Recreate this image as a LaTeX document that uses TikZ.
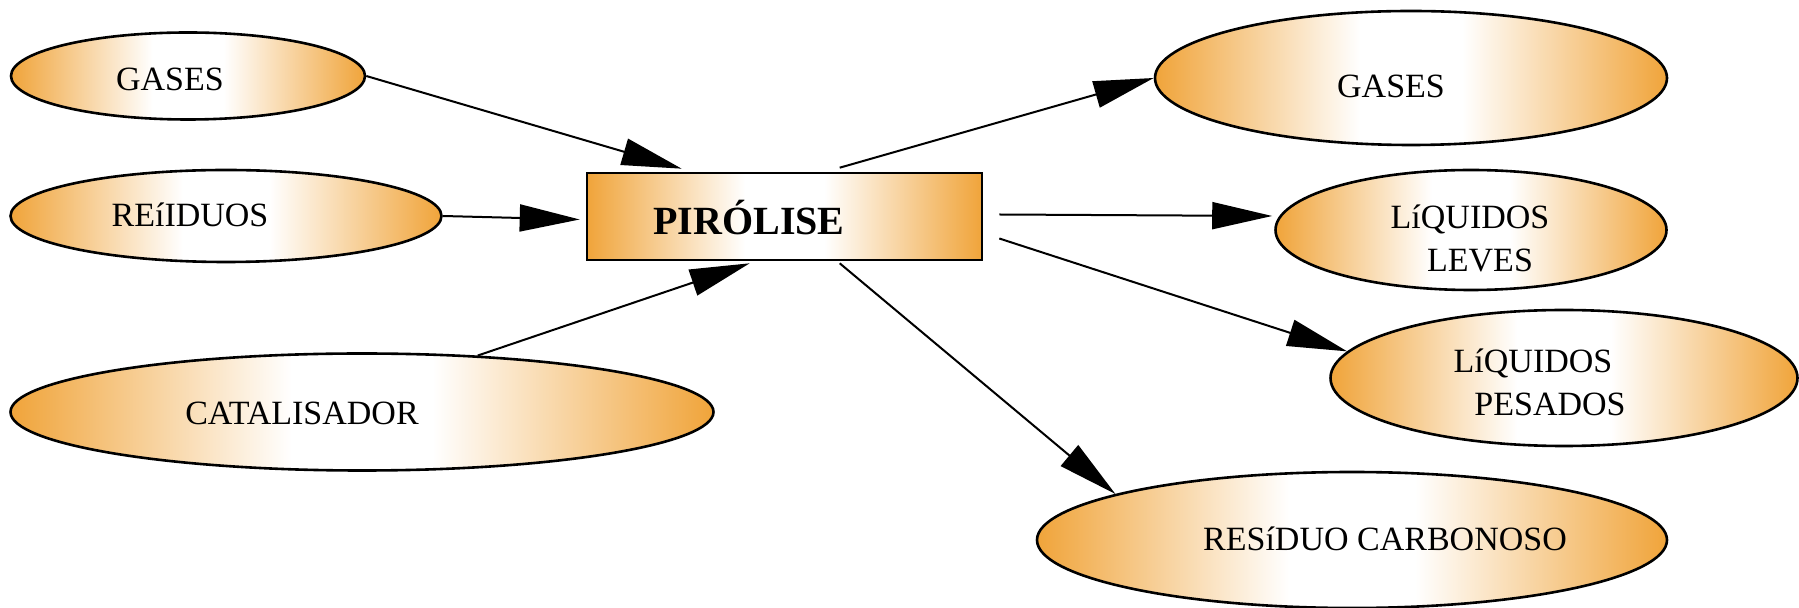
\documentclass[tikz,border=0pt]{standalone}
\usepackage{fontspec}
\setmainfont{Liberation Serif}
\usetikzlibrary{calc,arrows.meta,shapes.geometric}
\definecolor{pyorange}{RGB}{240,164,58}
\pgfdeclarehorizontalshading{orangefade}{100bp}{color(0bp)=(pyorange); color(25bp)=(pyorange); color(45bp)=(white); color(55bp)=(white); color(75bp)=(pyorange); color(100bp)=(pyorange)}
\tikzset{
	fade/.style={shading=orangefade},
	blob/.style={ellipse, draw, line width=1.3pt, inner sep=0pt, fade},
	lbl/.style={font=\fontsize{17}{21.5}\selectfont, inner sep=0pt, align=center},
	arr/.style={line width=1pt, -{Triangle[length=30pt,width=13.5pt]}}
}

\begin{document}
\begin{tikzpicture}[x=0.5pt,y=-0.5pt]
		%%%%% START %%%%%
		\useasboundingbox (0,0) rectangle (1799,608);
		
		% inputs
		\node[blob, minimum width=177pt, minimum height=43.5pt] (gin) at (188,76) {};
		\node[blob, minimum width=215.5pt, minimum height=46pt] (res) at (226,216) {};
		\node[blob, minimum width=351.5pt, minimum height=58.5pt] (cat) at (362,412) {};
		\node[lbl, anchor=base] (gintxt) at ($(gin)+(-18,15)$) {GASES};
		\node[lbl, anchor=base] (restxt) at ($(res)+(-36,11)$) {REíIDUOS};
		\node[lbl, anchor=base] (cattxt) at ($(cat)+(-60,13)$) {CATALISADOR};
		
		% reactor
		\node[draw, line width=1.3pt, inner sep=0pt, fade, minimum width=197.5pt, minimum height=43.5pt] (pyro) at (784.5,216.5) {};
		\node[lbl, anchor=base, font=\fontsize{20}{24}\selectfont\bfseries] (pyrotxt) at ($(pyro)+(-35.5,18.5)$) {PIRÓLISE};
		
		% products
		\node[blob, minimum width=256pt, minimum height=67pt] (gout) at (1411,78) {};
		\node[blob, minimum width=195.5pt, minimum height=60pt] (ll) at (1471,230) {};
		\node[blob, minimum width=233.5pt, minimum height=68pt] (lp) at (1564,378) {};
		\node[blob, minimum width=315pt, minimum height=68pt] (rc) at (1352,540) {};
		\node[lbl, anchor=base] (gouttxt) at ($(gout)+(-20,20)$) {GASES};
		\node[lbl] (lltxt) at ($(ll)+(-1,8)$) {LíQUIDOS\\\hspace*{10pt}LEVES};
		\node[lbl] (lptxt) at ($(lp)+(-31,4)$) {LíQUIDOS\\\hspace*{17pt}PESADOS};
		\node[lbl, anchor=base] (rctxt) at ($(rc)+(33,11)$) {RESíDUO CARBONOSO};
		
		% arrows in
		\draw[arr] (gin.east) -- ($(pyro.north west)+(96,-3)$);
		\draw[arr] (res.east) -- ($(pyro.west)+(-6,3)$);
		\draw[arr] (cat.26) -- ($(pyro.south west)+(164,2)$);
		
		% arrows out
		\draw[arr] ($(pyro.north west)+(254,-4)$) -- (gout.west);
		\draw[arr] ($(pyro.east)+(16,-2)$) -- ($(ll.west)+(-2,-14)$);
		\draw[arr] ($(pyro.east)+(16,22)$) -- (lp.173);
		\draw[arr] ($(pyro.south west)+(254,2)$) -- (rc.169);
		
		%%%%% END %%%%%
\end{tikzpicture}
\end{document}
